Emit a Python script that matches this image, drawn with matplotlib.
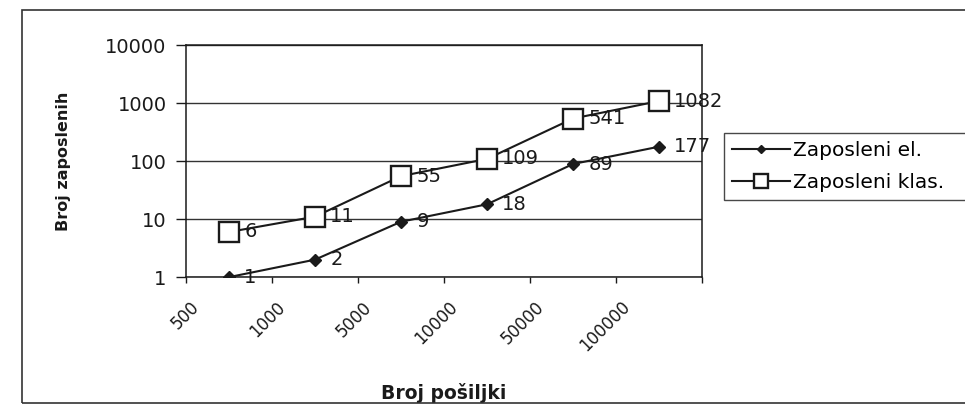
import numpy as np
import matplotlib
matplotlib.use("Agg")
import matplotlib.pyplot as plt
from matplotlib.patches import Rectangle
from matplotlib.ticker import FixedLocator, NullFormatter

plt.rcParams['font.family'] = ['DejaVu Sans']

# Categories (number of shipments) and employee counts per series
categories = ["500", "1000", "5000", "10000", "50000", "100000"]
zaposleni_el = [1, 2, 9, 18, 89, 177]
zaposleni_klas = [6, 11, 55, 109, 541, 1082]
y_ticks = [1, 10, 100, 1000, 10000]

INK = "#1a1a1a"

fig = plt.figure(figsize=(9.65, 4.13), dpi=100)
ax = fig.add_axes([0.1927, 0.329, 0.5348, 0.562])

x = np.arange(len(categories)) + 0.5

ax.plot(x, zaposleni_el, color=INK, lw=1.5, marker="D", markersize=6.5,
        markerfacecolor=INK, markeredgecolor=INK, label="Zaposleni el.", zorder=3)
ax.plot(x, zaposleni_klas, color=INK, lw=1.5, marker="s", markersize=14,
        markerfacecolor="white", markeredgecolor=INK, markeredgewidth=1.7,
        label="Zaposleni klas.", zorder=4)

# value labels to the right of each point
for xi, v in zip(x, zaposleni_el):
    ax.annotate(str(v), (xi, v), xytext=(11, 0), textcoords="offset points",
                ha="left", va="center", fontsize=14, color=INK, zorder=2)
for xi, v in zip(x, zaposleni_klas):
    ax.annotate(str(v), (xi, v), xytext=(11, 0), textcoords="offset points",
                ha="left", va="center", fontsize=14, color=INK, zorder=2)

ax.set_yscale("log")
ax.set_ylim(1, 10000)
ax.set_xlim(0, len(categories))
ax.yaxis.set_major_locator(FixedLocator(y_ticks))
ax.set_yticklabels([str(t) for t in y_ticks])
ax.yaxis.set_minor_locator(FixedLocator([]))
ax.grid(axis="y", which="major", color="#333333", lw=1.0)
ax.set_axisbelow(True)

# tick marks between categories, labels offset toward each category
ax.xaxis.set_major_locator(FixedLocator(np.arange(len(categories) + 1)))
ax.xaxis.set_major_formatter(NullFormatter())
ax.xaxis.set_minor_locator(FixedLocator(np.arange(len(categories)) + 0.2))
ax.set_xticklabels(categories, minor=True, rotation=45, ha="right",
                   va="top", fontsize=12, color=INK)
ax.tick_params(axis="x", which="major", direction="out", length=4,
               width=1.0, color=INK)
ax.tick_params(axis="x", which="minor", length=0, pad=15)
ax.tick_params(axis="y", which="major", direction="out", length=7,
               width=1.0, color=INK, labelsize=14, labelcolor=INK, pad=7)

for s in ax.spines.values():
    s.set_color(INK)
    s.set_linewidth(1.1)

ax.set_ylabel("Broj zaposlenih", fontsize=11.5, fontweight="bold", color=INK)
ax.yaxis.set_label_coords(-0.222, 0.5)
ax.set_xlabel("Broj pošiljki", fontsize=13.5, fontweight="bold", color=INK)
ax.xaxis.set_label_coords(0.5, -0.455)

# legend box runs past the right edge of the chart frame
leg = fig.legend(loc="upper left",
                 bbox_to_anchor=(724 / 965, 1 - 197 / 413, 0.3, 64 / 413),
                 mode="expand", frameon=True, fancybox=False, fontsize=14.5,
                 handlelength=2.9, handletextpad=0.15, borderpad=0.4,
                 labelspacing=0.65, borderaxespad=0)
leg.get_frame().set_edgecolor(INK)
leg.get_frame().set_linewidth(1.0)
leg.legend_handles[0].set_markersize(4.5)
leg.legend_handles[1].set_markersize(10)

# outer chart frame
fig.patches.append(Rectangle((22 / 965, 10 / 413), 1.0, 393 / 413,
                             transform=fig.transFigure, fill=False,
                             edgecolor="#333333", lw=1.2))

fig.savefig("out.png", dpi=100)
